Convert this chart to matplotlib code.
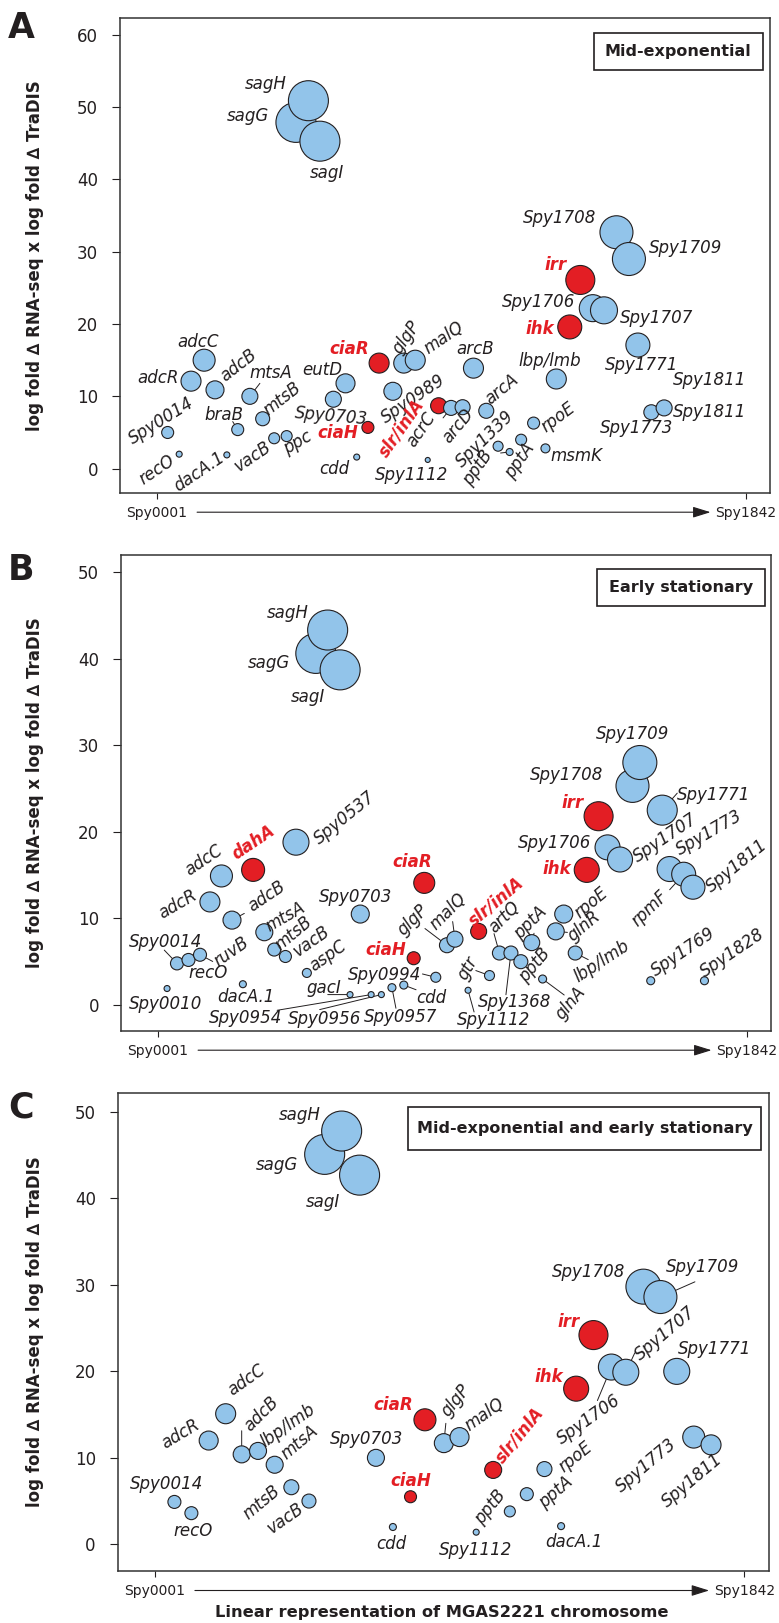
import matplotlib
matplotlib.use('Agg')
import matplotlib.pyplot as plt
from matplotlib.patches import Rectangle
from matplotlib.transforms import offset_copy

plt.rcParams['font.family'] = ['DejaVu Sans']

# genes drawn in red (two-component systems)
red_genes = ['ciaR', 'ciaH', 'slr/inlA', 'irr', 'ihk', 'dahA']

# ---- panel A: mid-exponential ----
genes_a = ['Spy0014', 'recO', 'adcR', 'adcC', 'adcB', 'dacA.1', 'braB', 'mtsA', 'mtsB',
           'vacB', 'ppc', 'sagG', 'sagH', 'sagI', 'Spy0703', 'eutD', 'cdd', 'ciaH', 'ciaR',
           'Spy0989', 'glgP', 'malQ', 'Spy1112', 'slr/inlA', 'acrC', 'arcD', 'arcB', 'arcA',
           'Spy1339', 'pptB', 'pptA', 'rpoE', 'msmK', 'lbp/lmb', 'ihk', 'irr', 'Spy1706',
           'Spy1707', 'Spy1708', 'Spy1709', 'Spy1771', 'Spy1773', 'Spy1811']
pos_a = [35, 71, 108, 149, 183, 220, 254, 292, 332,
         368, 407, 436, 475, 511, 553, 591, 626, 661, 696,
         739, 773, 809, 848, 882, 921, 957, 991, 1031,
         1068, 1104, 1140, 1179, 1216, 1250, 1292, 1325, 1364,
         1399, 1438, 1477, 1505, 1547, 1587]
score_a = [5.0, 2.0, 12.1, 15.0, 10.9, 1.9, 5.4, 10.0, 6.9,
           4.2, 4.5, 47.9, 50.9, 45.3, 9.6, 11.8, 1.6, 5.7, 14.6,
           10.7, 14.6, 15.0, 1.2, 8.7, 8.4, 8.5, 13.9, 8.0,
           3.1, 2.3, 4.0, 6.3, 2.8, 12.4, 19.6, 26.1, 22.2,
           21.9, 32.7, 29.0, 17.1, 7.8, 8.4]
size_a = [12, 6, 20, 22, 18, 6, 12, 16, 14,
          11, 11, 40, 40, 40, 16, 19, 6, 12, 20,
          18, 20, 20, 5, 16, 15, 15, 20, 15,
          10, 7, 11, 12, 9, 20, 24, 29, 27,
          27, 33, 33, 24, 15, 16]

# ---- panel B: early stationary ----
genes_b = ['Spy0010', 'Spy0014', 'recO', 'ruvB', 'adcR', 'adcC', 'adcB', 'dacA.1', 'dahA',
           'mtsA', 'mtsB', 'vacB', 'Spy0537', 'aspC', 'sagG', 'sagH', 'sagI', 'gacI',
           'Spy0703', 'Spy0954', 'Spy0956', 'Spy0957', 'cdd', 'ciaH', 'ciaR', 'Spy0994',
           'glgP', 'malQ', 'Spy1112', 'slr/inlA', 'gtr', 'artQ', 'Spy1368', 'pptB', 'pptA',
           'glnA', 'glnR', 'rpoE', 'lbp/lmb', 'ihk', 'irr', 'Spy1706', 'Spy1707', 'Spy1708',
           'Spy1709', 'Spy1769', 'Spy1771', 'Spy1773', 'rpmF', 'Spy1811', 'Spy1828']
pos_b = [30, 61, 97, 133, 164, 200, 233, 267, 299,
         334, 365, 400, 433, 467, 495, 532, 571, 602,
         634, 668, 700, 733, 770, 801, 834, 870,
         905, 930, 971, 1004, 1038, 1069, 1105, 1136, 1170,
         1204, 1245, 1270, 1306, 1342, 1379, 1407, 1446, 1485,
         1508, 1542, 1578, 1601, 1645, 1674, 1710]
score_b = [1.9, 4.8, 5.2, 5.8, 11.9, 14.9, 9.8, 2.4, 15.6,
           8.4, 6.4, 5.6, 18.8, 3.7, 40.6, 43.3, 38.7, 1.2,
           10.5, 1.2, 1.2, 2.0, 2.3, 5.4, 14.1, 3.2,
           6.9, 7.6, 1.7, 8.5, 3.4, 6.0, 6.0, 5.0, 7.2,
           3.0, 8.5, 10.5, 6.0, 15.6, 21.8, 18.2, 16.8, 25.3,
           28.0, 2.8, 22.5, 15.7, 15.1, 13.6, 2.8]
size_b = [6, 13, 13, 13, 20, 22, 18, 7, 23,
          17, 13, 12, 26, 9, 40, 40, 40, 6,
          18, 6, 6, 8, 8, 13, 21, 10,
          15, 16, 6, 16, 10, 14, 14, 14, 16,
          8, 17, 18, 14, 25, 29, 25, 25, 33,
          34, 8, 30, 25, 24, 24, 8]

# ---- panel C: both growth phases ----
genes_c = ['Spy0014', 'recO', 'adcR', 'adcC', 'adcB', 'lbp/lmb', 'mtsA', 'mtsB', 'vacB',
           'sagG', 'sagH', 'sagI', 'Spy0703', 'cdd', 'ciaH', 'ciaR', 'glgP', 'malQ',
           'Spy1112', 'slr/inlA', 'pptB', 'pptA', 'rpoE', 'dacA.1', 'ihk', 'irr',
           'Spy1706', 'Spy1707', 'Spy1708', 'Spy1709', 'Spy1771', 'Spy1773', 'Spy1811']
pos_c = [63, 116, 170, 223, 273, 324, 376, 428, 483,
         532, 585, 641, 692, 745, 800, 845, 904, 953,
         1005, 1058, 1110, 1163, 1218, 1270, 1317, 1371,
         1427, 1472, 1527, 1580, 1631, 1684, 1738]
score_c = [4.9, 3.6, 12.0, 15.1, 10.4, 10.8, 9.2, 6.6, 5.0,
           45.1, 47.8, 42.7, 10.0, 2.0, 5.5, 14.4, 11.7, 12.4,
           1.4, 8.6, 3.8, 5.8, 8.7, 2.1, 18.0, 24.2,
           20.5, 19.9, 29.8, 28.6, 20.0, 12.4, 11.5]
size_c = [13, 13, 19, 20, 17, 17, 17, 15, 14,
          40, 40, 40, 17, 7, 12, 22, 19, 19,
          6, 17, 11, 13, 15, 7, 25, 29,
          26, 26, 35, 33, 26, 22, 20]

titles = ['Mid-exponential', 'Early stationary', 'Mid-exponential and early stationary']
ytick_a = [0, 10, 20, 30, 40, 50, 60]
ytick_bc = [0, 10, 20, 30, 40, 50]
xtick_pos = [1, 1842]
xtick_lab = ['Spy0001', 'Spy1842']
ylab = 'log fold \u2206 RNA-seq x log fold \u2206 TraDIS'
xlab = 'Linear representation of MGAS2221 chromosome'

# label placement: name -> (dx px, dy px, rotation, optional leader end (dx, dy))
lab_a = {
    'sagH': (-42.5, 17, 0), 'sagG': (-47.5, 6.4, 0), 'sagI': (7, -32, 0),
    'Spy1708': (-56.5, 14, 0), 'Spy1709': (56.5, 11.5, 0), 'irr': (-25, 15.3, 0),
    'Spy1706': (-54.5, 6.4, 0), 'Spy1707': (52.5, -7.5, 0), 'ihk': (-29.5, -2, 0),
    'Spy1771': (3.5, -20.3, 0), 'Spy1773': (-15, -16, 0), 'Spy1811': (45.3, -4.4, 0),
    'adcC': (-6, 18.6, 0), 'adcR': (-33, 3.4, 0), 'adcB': (23, 24.7, 38),
    'mtsA': (20.5, 23, 0, (10, 13)), 'mtsB': (20, 20.3, 38), 'braB': (-14, 15, 0, (-5, 8)),
    'Spy0014': (-6, 12, 32), 'recO': (-22.5, -15.3, 34), 'dacA.1': (-28, -16.6, 34),
    'vacB': (-21.5, -18, 34), 'ppc': (10.5, -6.8, 30), 'eutD': (-23.5, 12.9, 0),
    'Spy0703': (-2.5, -17.3, -5), 'ciaR': (-29.5, 13.6, 0), 'ciaH': (-30, -5.8, 0),
    'cdd': (-22.5, -11.9, 0), 'glgP': (3, 25.4, 55), 'malQ': (29, 22, 34),
    'Spy0989': (20, -7.5, 34), 'slr/inlA': (-37, -22, 55), 'acrC': (-29.5, -21.4, 55, (-8, -10)),
    'arcD': (-5, -18.6, 50), 'arcB': (1.5, 19.3, 0), 'arcA': (16, 22, 39),
    'Spy1112': (-16, -14.6, 0), 'Spy1339': (-13.5, 6.8, 44), 'pptB': (-31.5, -15.6, 55, (-9, -1)),
    'pptA': (-1.5, -21.4, 55), 'rpoE': (24.5, 5.8, 37), 'msmK': (30.5, -7.8, 0),
    'lbp/lmb': (-7, 18.3, 0),
}
extra_a = [('Spy1811', 'Spy1811', 45.3, 28.3, 0)]

lab_b = {
    'sagH': (-40, 16.8, 0), 'sagG': (-46.5, -9.6, 0), 'sagI': (-32, -27.5, 0),
    'Spy1709': (-7.5, 28.5, 0), 'Spy1708': (-66, 11.3, 0), 'Spy1771': (51, 14.8, 0, (15, 17)),
    'irr': (-26, 13, 0), 'Spy1706': (-52.5, 4.5, 0), 'Spy1707': (45, 21.6, 34),
    'ihk': (-30, 0.7, 0), 'Spy1773': (40, 36, 30), 'rpmF': (-34, -34.4, 44, (-14, -15.5)),
    'Spy1811': (44, 21.6, 39), 'dahA': (0.5, 27.2, 34), 'adcC': (-17.5, 15.5, 34),
    'Spy0537': (48.5, 24, 39), 'adcR': (-32.5, -2.7, 30), 'adcB': (35, 24, 34, (12.3, 6.7)),
    'Spy0703': (-4.3, 16.6, 0), 'ciaR': (-12, 20.6, 0), 'mtsA': (20.7, 15.6, 30),
    'mtsB': (19.4, 16, 40), 'vacB': (25.7, 15, 35), 'Spy0014': (-11, 21.6, 0, (-12.7, 13.3)),
    'recO': (20, -13.3, 0), 'ruvB': (31, 3.3, 35, (12.7, -6.7)), 'Spy0010': (-1, -15, 0),
    'dacA.1': (3.3, -13.3, 0), 'aspC': (21, 16.6, 35), 'gacI': (-25.7, 6.7, 0, (-22.3, 0)),
    'Spy0954': (-125.7, -23, 0, (-94, -15.7)), 'Spy0956': (-56.7, -24.3, 0, (-61.7, -15)),
    'Spy0957': (9, -29, 0, (4, -20.6)), 'cdd': (27.3, -13, 0, (12.3, -4.7)),
    'Spy0994': (-50.7, 2.3, 0, (-13.3, 3.3)), 'ciaH': (-27.7, 8.7, 0),
    'glgP': (-34, 25, 45, (-22, 16.7)), 'malQ': (-7.3, 27.6, 45, (-2.3, 17.6)),
    'slr/inlA': (17.3, 30, 40), 'artQ': (4.6, 36, 45, (-5.4, 19.4)),
    'Spy1368': (3.3, -49.4, 0, (-5, -41.7)), 'gtr': (-22, 7.4, 60, (-13.7, 5)),
    'Spy1112': (26, -30, 0, (6, -21.7)), 'pptA': (-1, 20, 45, (2.3, 9.4)),
    'pptB': (13.3, -3.3, 50), 'glnA': (28.3, -24.3, 50, (21.6, -16)),
    'glnR': (28.3, 5, 40, (11.7, -1)), 'rpoE': (27, 11, 40),
    'lbp/lmb': (26.5, -8, 33, (13, -6.6)), 'Spy1769': (32.5, 29, 34), 'Spy1828': (27.5, 28, 34),
}

lab_c = {
    'sagH': (-41.5, 15.7, 0), 'sagG': (-47.5, -10.8, 0), 'sagI': (-37, -27.3, 0),
    'Spy1708': (-54.5, 14.3, 0), 'Spy1709': (42, 30.1, 0, (34.5, 15.2)), 'irr': (-24.5, 13.3, 0),
    'Spy1706': (-22.5, -52.4, 35, (-14, -33.5)), 'Spy1707': (39, 38.5, 40, (9, 19.4)),
    'Spy1771': (38, 22.7, 0), 'ihk': (-27, 11.5, 0), 'Spy1773': (-47.5, -28, 40),
    'Spy1811': (-19, -36, 40), 'adcC': (21, 33.6, 35), 'adcR': (-28, 6.3, 31),
    'adcB': (20, 40.6, 45, (0, 23.6)), 'lbp/lmb': (30, 25.5, 35), 'mtsA': (24.5, 22.4, 40),
    'mtsB': (-30, -15, 40), 'vacB': (-23.5, -17.5, 35), 'Spy0014': (-7.5, 18.2, 0),
    'recO': (2, -17.8, 0), 'Spy0703': (-9, 19.2, 0), 'ciaR': (-31.5, 14.7, 0),
    'ciaH': (0, 16, 0), 'cdd': (-2, -16.8, 0), 'glgP': (12, 42.6, 51, (2, 19.8)),
    'malQ': (25, 23, 35), 'slr/inlA': (26.5, 34.3, 51), 'Spy1112': (-0.5, -18.2, 0),
    'pptB': (-19.5, 4.5, 51), 'pptA': (28.6, 2, 41), 'rpoE': (30.7, 12.4, 39),
    'dacA.1': (13, -15.7, 0),
}

BLUE = '#92C4EA'
RED = '#E31E24'
INK = '#231F20'

W, H = 779, 1623
fig = plt.figure(figsize=(W / 100, H / 100), dpi=100)


def px_axes(l, r, t, b):
    return fig.add_axes([l / W, 1 - b / H, (r - l) / W, (b - t) / H])


def draw_panel(ax, names, pos, score, size, labels, extras, yticks, ylim, title, box):
    cols = [RED if n in red_genes else BLUE for n in names]
    ax.scatter(pos, score, s=[(d * 0.72) ** 2 for d in size], c=cols,
               edgecolors=INK, linewidths=0.8, zorder=3)
    for n, x, y, d in zip(names, pos, score, size):
        if n not in labels:
            continue
        spec = labels[n]
        red = n in red_genes
        ax.annotate(n, (x, y), xytext=(spec[0], spec[1]), textcoords='offset pixels',
                    ha='center', va='center', rotation=spec[2], rotation_mode='anchor',
                    fontsize=12, style='italic', weight='bold' if red else 'normal',
                    color=RED if red else INK, zorder=4)
        if len(spec) > 3:
            ax.annotate('', (x, y), xytext=spec[3], textcoords='offset pixels',
                        arrowprops=dict(arrowstyle='-', lw=0.7, color=INK,
                                        shrinkA=0, shrinkB=d * 0.36), zorder=2)
    for n, txt, dx, dy, rot in extras:
        i = names.index(n)
        ax.annotate(txt, (pos[i], score[i]), xytext=(dx, dy), textcoords='offset pixels',
                    ha='center', va='center', rotation=rot, fontsize=12, style='italic',
                    color=INK, zorder=4)

    ax.set_xlim(-114, 1918)
    ax.set_ylim(*ylim)
    ax.set_yticks(yticks)
    ax.set_xticks(xtick_pos)
    ax.set_xticklabels(xtick_lab)
    ax.tick_params(axis='y', length=5.8, width=0.8, pad=10, labelsize=12, colors=INK)
    ax.tick_params(axis='x', length=4.3, width=0.8, pad=5, labelsize=10, colors=INK)
    for sp in ax.spines.values():
        sp.set_linewidth(1.1)
        sp.set_color('#333333')

    # chromosome arrow under the axis
    trans = offset_copy(ax.get_xaxis_transform(), fig=fig, y=-19.5, units='dots')
    ax.annotate('', xy=(1732, 0), xytext=(127, 0), xycoords=trans, textcoords=trans,
                annotation_clip=False,
                arrowprops=dict(arrowstyle='-|>,head_length=0.9,head_width=0.28',
                                mutation_scale=12, lw=0.8, color=INK, shrinkA=0, shrinkB=0))

    x0, x1, y0, y1 = box
    ax.add_patch(Rectangle((x0, y0), x1 - x0, y1 - y0, transform=ax.transAxes,
                           fc='white', ec=INK, lw=1.2, zorder=5))
    ax.text((x0 + x1) / 2, (y0 + y1) / 2, title, transform=ax.transAxes, ha='center',
            va='center', fontsize=11.5, weight='bold', color=INK, zorder=6)


ax_a = px_axes(120, 770, 18.3, 492.7)
ax_b = px_axes(121, 771, 554.7, 1030.7)
ax_c = px_axes(117.7, 768.7, 1093, 1571)

draw_panel(ax_a, genes_a, pos_a, score_a, size_a, lab_a, extra_a, ytick_a,
           (-3.33, 62.3), titles[0], (0.729, 0.989, 0.891, 0.970))
draw_panel(ax_b, genes_b, pos_b, score_b, size_b, lab_b, [], ytick_bc,
           (-2.97, 52.0), titles[1], (0.732, 0.990, 0.892, 0.969))
draw_panel(ax_c, genes_c, pos_c, score_c, size_c, lab_c, [], ytick_bc,
           (-3.09, 52.2), titles[2], (0.446, 0.988, 0.880, 0.971))

for letter, yc in zip(['A', 'B', 'C'], [27.5, 569.5, 1107]):
    fig.text(21.5 / W, 1 - yc / H, letter, fontsize=25, weight='bold', ha='center',
             va='center', color=INK)
for yc in [255.5, 792.7, 1332]:
    fig.text(35 / W, 1 - yc / H, ylab, rotation=90, fontsize=12, weight='bold',
             ha='center', va='center', color=INK)
fig.text(441.7 / W, 1 - 1613 / H, xlab, fontsize=11.7, weight='bold', ha='center',
         va='center', color=INK)

fig.savefig('out.png', dpi=100)
